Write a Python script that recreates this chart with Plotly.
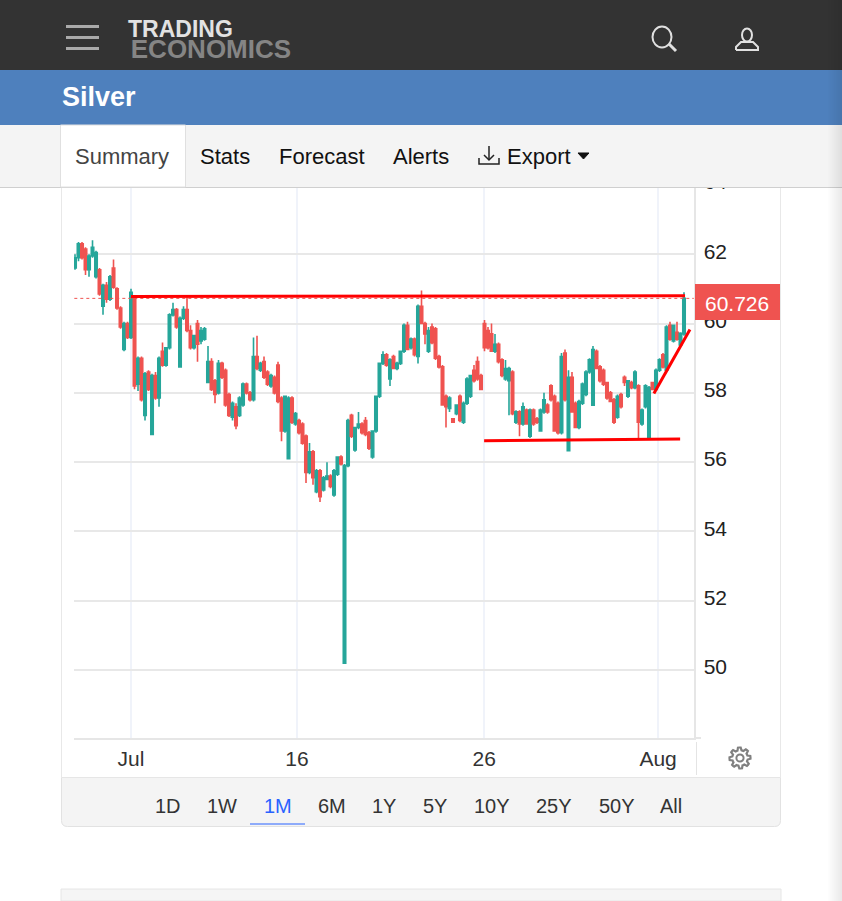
import math
import plotly.graph_objects as go

W, H = 842, 901

opens = [61.6, 61.9, 62.3, 62.15, 61.55, 61.95, 61.35, 61.55, 60.5, 61.1,
         60.7, 61.6, 61.0, 60.45, 59.25, 60.0, 59.6, 60.75, 58.25, 59.0,
         57.35, 58.6, 56.8, 58.5, 57.85, 59.2, 58.8, 59.3, 60.25, 60.4,
         58.75, 60.15, 60.4, 59.8, 59.3, 60.0, 59.5, 59.55, 58.3, 58.9,
         58.35, 58.0, 58.85, 58.65, 57.95, 57.3, 57.6, 57.35, 57.65, 58.25,
         58.0, 57.8, 59.05, 58.65, 58.9, 58.6, 58.2, 58.45, 58.8, 57.85,
         56.9, 56.1, 57.85, 57.1, 57.2, 57.1, 56.75, 55.7, 56.3, 55.15,
         55.75, 55.2, 55.5, 55.6, 55.05, 55.65, 56.15, 50.2, 55.9, 57.35,
         56.35, 57.0, 57.1, 57.2, 56.85, 56.15, 56.9, 57.9, 58.85, 59.1,
         58.4, 59.05, 58.7, 58.85, 59.2, 59.95, 59.3, 59.55, 59.05, 60.5,
         60.0, 59.2, 59.9, 59.85, 59.05, 58.75, 57.9, 57.55, 57.25, 57.4,
         57.9, 57.15, 57.7, 57.9, 58.65, 58.9, 58.5, 60.0, 59.8, 59.7,
         59.2, 59.4, 58.95, 58.4, 58.35, 58.6, 57.15, 57.45, 57.1, 57.5,
         56.75, 57.5, 57.25, 56.9, 57.45, 57.65, 58.2, 57.9, 57.7, 56.85,
         59.15, 56.33, 58.45, 57.7, 57.0, 57.7, 57.95, 58.6, 57.64, 59.2,
         58.75, 58.65, 58.3, 58.0, 57.8, 57.3, 57.95, 58.45, 57.9, 58.3,
         58.15, 58.2, 57.1, 57.6, 56.7, 58.3, 58.1, 58.65, 59.1, 58.65,
         59.95, 59.5, 59.75, 59.38, 59.7]
highs = [62.0, 62.35, 62.35, 62.2, 62.0, 62.4, 62.1, 61.6, 61.15, 61.2,
         61.4, 61.85, 61.05, 60.5, 60.05, 60.05, 61.0, 60.8, 59.05, 59.05,
         58.6, 58.65, 58.55, 58.6, 59.05, 59.45, 59.3, 60.3, 60.6, 60.45,
         60.2, 60.5, 60.75, 59.95, 59.65, 60.1, 59.9, 59.9, 59.35, 59.0,
         58.4, 58.95, 58.9, 58.7, 58.0, 57.75, 57.7, 57.9, 58.3, 58.3,
         58.05, 59.6, 59.65, 58.9, 59.05, 58.65, 58.55, 58.5, 58.9, 57.9,
         57.9, 57.9, 57.9, 57.45, 57.25, 57.15, 56.8, 56.55, 56.35, 55.8,
         55.8, 55.6, 56.0, 55.65, 55.8, 56.15, 56.2, 55.95, 57.25, 57.4,
         57.0, 57.45, 57.15, 57.3, 56.9, 56.9, 57.9, 58.85, 59.2, 59.15,
         59.0, 59.1, 58.9, 59.2, 60.0, 60.05, 59.6, 59.6, 60.55, 60.95,
         60.05, 59.9, 60.0, 59.9, 59.1, 58.8, 57.95, 57.9, 57.25, 57.65,
         57.95, 57.75, 58.45, 58.5, 58.8, 59.05, 58.55, 60.1, 59.9, 60.0,
         59.7, 59.45, 59.0, 58.95, 58.75, 58.65, 57.5, 57.5, 57.72, 57.55,
         57.55, 57.55, 57.3, 57.55, 58.0, 57.7, 58.25, 57.95, 57.75, 59.15,
         59.25, 58.65, 58.6, 57.75, 57.8, 58.3, 58.65, 59.0, 59.35, 59.25,
         58.8, 58.7, 58.3, 58.05, 57.85, 57.95, 58.0, 58.5, 58.35, 58.35,
         58.65, 58.25, 57.55, 58.25, 58.2, 58.3, 58.7, 59.0, 59.15, 59.95,
         60.05, 59.95, 60.05, 59.75, 60.9]
lows = [61.55, 61.8, 61.85, 61.4, 61.35, 61.9, 61.3, 60.8, 60.25, 60.6,
        60.65, 61.0, 60.4, 59.85, 59.2, 59.55, 59.55, 58.1, 58.05, 57.75,
        57.2, 58.05, 56.8, 57.8, 57.6, 58.75, 58.75, 59.25, 60.2, 59.85,
        58.75, 60.1, 59.75, 59.25, 59.25, 58.9, 59.4, 59.5, 58.3, 58.05,
        57.7, 57.95, 58.4, 57.6, 57.3, 57.2, 56.95, 57.3, 57.6, 57.95,
        57.75, 57.75, 58.65, 58.6, 58.4, 58.2, 58.15, 57.95, 57.7, 56.6,
        56.85, 56.1, 57.1, 57.05, 56.8, 56.5, 55.4, 55.65, 55.35, 55.1,
        54.85, 55.15, 55.5, 55.25, 55.0, 55.6, 55.9, 50.2, 55.85, 56.7,
        56.3, 56.95, 56.8, 56.75, 56.35, 56.1, 56.85, 57.85, 58.8, 58.75,
        58.2, 58.7, 58.65, 58.8, 59.15, 59.25, 59.25, 59.05, 58.85, 60.0,
        59.4, 59.15, 59.4, 58.95, 58.7, 57.65, 57.0, 57.45, 57.15, 57.35,
        57.15, 57.1, 57.65, 57.85, 58.3, 58.35, 58.1, 59.2, 59.25, 59.2,
        59.15, 58.85, 58.45, 58.35, 57.35, 57.35, 57.1, 56.75, 57.05, 57.1,
        56.7, 57.05, 57.1, 56.9, 57.4, 57.4, 57.75, 56.9, 56.8, 56.8,
        57.75, 56.33, 57.45, 57.0, 56.95, 57.65, 57.9, 58.55, 57.64, 58.7,
        58.3, 58.2, 57.8, 57.75, 57.1, 57.25, 57.55, 58.2, 57.85, 58.1,
        58.1, 56.67, 57.05, 57.55, 56.7, 58.1, 58.05, 58.6, 58.7, 58.6,
        59.5, 59.45, 59.5, 59.35, 59.65]
closes = [61.9, 62.3, 61.9, 61.55, 61.95, 62.2, 62.05, 60.85, 61.1, 60.7,
          61.35, 61.05, 60.45, 59.9, 60.0, 59.6, 60.9, 58.2, 59.0, 57.8,
          58.55, 58.1, 58.5, 57.85, 59.0, 58.8, 59.3, 60.25, 60.4, 59.9,
          60.15, 60.4, 59.8, 59.3, 59.65, 59.4, 59.8, 59.85, 58.9, 58.1,
          57.95, 58.85, 58.45, 57.65, 57.35, 57.7, 57.05, 57.85, 58.25, 58.0,
          57.8, 59.05, 58.7, 58.85, 58.45, 58.25, 58.5, 58.0, 57.75, 56.9,
          57.9, 57.85, 57.15, 57.4, 56.85, 56.55, 55.7, 56.3, 55.55, 55.75,
          55.0, 55.55, 55.6, 55.3, 55.75, 56.15, 55.95, 55.9, 57.2, 56.75,
          57.0, 57.1, 56.85, 56.8, 56.4, 56.9, 57.9, 58.85, 59.1, 58.8,
          58.95, 58.7, 58.85, 59.2, 59.95, 59.25, 59.55, 59.1, 60.5, 60.0,
          59.7, 59.8, 59.45, 59.0, 58.75, 57.65, 57.6, 57.85, 57.15, 57.65,
          57.2, 57.7, 58.4, 58.5, 58.35, 58.4, 58.1, 59.3, 59.3, 59.2,
          59.4, 58.9, 58.5, 58.7, 58.7, 57.4, 57.45, 57.1, 57.6, 57.1,
          57.5, 57.1, 57.15, 57.5, 57.8, 57.45, 57.8, 56.9, 56.85, 59.05,
          57.8, 58.45, 57.45, 57.0, 57.75, 58.25, 58.6, 58.95, 59.25, 58.7,
          58.35, 58.25, 57.85, 57.75, 57.15, 57.9, 57.6, 58.3, 58.35, 58.15,
          58.6, 57.15, 57.5, 58.2, 58.15, 58.1, 58.65, 58.95, 58.75, 59.9,
          59.55, 59.95, 59.55, 59.72, 60.726]

last_price = 60.726
y_ticks = [50, 52, 54, 56, 58, 60, 62, 64]
x_tick_pos = [16, 63.4, 116.9, 166.6]
x_tick_labels = ["Jul", "16", "26", "Aug"]
range_buttons = ["1D", "1W", "1M", "6M", "1Y", "5Y", "10Y", "25Y", "50Y", "All"]
range_button_x = [168, 222, 278, 332, 384, 435, 492, 554, 617, 671]
tabs = ["Stats", "Forecast", "Alerts", "Export"]
tab_x = [198.5, 277.5, 392, 506]

# hand drawn lines on the chart: (x indexes, y values)
resistance_x, resistance_y = [16, 174.3], [60.78, 60.8]
support_x, support_y = [116.9, 172.9], [56.62, 56.67]
trend_x, trend_y = [165.4, 175.7], [57.98, 59.83]

FONT = "Liberation Sans"
UP, DOWN = "#26a69a", "#ef5350"


def px(x):
    return x / W


def py(y):
    return 1 - y / H


fig = go.Figure()

fig.add_trace(go.Candlestick(
    x=list(range(len(closes))),
    open=opens, high=highs, low=lows, close=closes,
    increasing=dict(line=dict(color=UP, width=1.6), fillcolor=UP),
    decreasing=dict(line=dict(color=DOWN, width=1.6), fillcolor=DOWN),
    whiskerwidth=0,
    hoverinfo="skip",
))

# last price dotted line
fig.add_trace(go.Scatter(
    x=[-0.2, 176.8], y=[last_price, last_price], mode="lines",
    line=dict(color="#ef5350", width=1, dash="dot"), hoverinfo="skip",
))
for lx, ly in [(resistance_x, resistance_y), (support_x, support_y), (trend_x, trend_y)]:
    fig.add_trace(go.Scatter(
        x=lx, y=ly, mode="lines",
        line=dict(color="#ff0000", width=3), hoverinfo="skip",
    ))

shapes = []
annotations = []


def rect(x0, y0, x1, y1, fill, line=None, lw=1):
    shapes.append(dict(
        type="rect", xref="paper", yref="paper", layer="above",
        x0=px(x0), x1=px(x1), y0=py(y0), y1=py(y1), fillcolor=fill,
        line=dict(color=line or fill, width=lw if line else 0),
    ))


def seg(points, color, lw=2, close=False, fill=None):
    d = "M" + " L".join(f"{px(a):.5f},{py(b):.5f}" for a, b in points)
    if close:
        d += " Z"
    shapes.append(dict(
        type="path", xref="paper", yref="paper", layer="above", path=d,
        line=dict(color=color, width=lw), fillcolor=fill or "rgba(0,0,0,0)",
    ))


def rounded_bottom(x0, y0, x1, y1, r, fill, line):
    d = (f"M{px(x0)},{py(y0)} L{px(x0)},{py(y1 - r)} "
         f"Q{px(x0)},{py(y1)} {px(x0 + r)},{py(y1)} L{px(x1 - r)},{py(y1)} "
         f"Q{px(x1)},{py(y1)} {px(x1)},{py(y1 - r)} L{px(x1)},{py(y0)}")
    shapes.append(dict(
        type="path", xref="paper", yref="paper", layer="above", path=d,
        line=dict(color=line, width=1), fillcolor=fill,
    ))


def oval(cx, cy, rx, ry, color, lw=2):
    shapes.append(dict(
        type="circle", xref="paper", yref="paper", layer="above",
        x0=px(cx - rx), x1=px(cx + rx), y0=py(cy + ry), y1=py(cy - ry),
        line=dict(color=color, width=lw),
    ))


def label(x, y, text, size, color, anchor="center", weight=None):
    annotations.append(dict(
        xref="paper", yref="paper", x=px(x), y=py(y), text=text, showarrow=False,
        xanchor=anchor, yanchor="middle", borderpad=0, align="left",
        font=dict(family=FONT, size=size, color=color, weight=weight),
    ))


# header
rect(0, 0, 842, 70, "#333333")
rect(0, 70, 842, 125, "#4e80bd")
rect(0, 125, 842, 187, "#f4f4f4")
rect(0, 187, 842, 188, "#cfcfcf")
rect(60.5, 125, 185.5, 187, "#ffffff", "#e0e0e0", 1)
for hy in [26.5, 37.5, 48.5]:
    seg([(66, hy), (99, hy)], "#aaaaaa", 3)
label(126.5, 40.5,
      '<span style="font-size:23px;color:#e2e2e2"><b>TRADING</b></span><br>'
      '<span style="font-size:10px">&nbsp;</span>'
      '<span style="font-size:26px;color:#858585"><b>ECONOMICS</b></span>',
      16, "#e2e2e2", "left")
oval(662, 37, 9.5, 10.5, "#e0e0e0", 2)
seg([(669, 44), (676, 51)], "#e0e0e0", 3)
oval(747, 35, 5, 6.5, "#e0e0e0", 2)
seg([(736, 50), (736, 47), (741, 42), (753, 42), (758, 47), (758, 50), (736, 50)], "#e0e0e0", 2)
label(61, 96.5, "Silver", 27, "#ffffff", "left", "bold")
label(73.5, 156, "Summary", 22, "#444444", "left")
for tx, tab in zip(tab_x, tabs):
    label(tx, 156, tab, 22, "#111111", "left")
seg([(489, 146), (489, 160)], "#222222", 1.5)
seg([(484, 155), (489, 160), (494, 155)], "#222222", 1.5)
seg([(479, 158), (479, 164), (499, 164), (499, 158)], "#222222", 1.5)
seg([(578, 153), (589, 153), (583.5, 159)], "#111111", 1, True, "#111111")

# card frame
rect(61, 188, 62, 778, "#e8e8e8")
rect(780, 188, 781, 778, "#e8e8e8")
rounded_bottom(61.5, 778, 780.5, 826.5, 6, "#f4f4f4", "#e2e2e2")
rect(62, 777, 780, 778, "#e6e6e6")
rect(61, 889, 781, 901, "#f5f5f5", "#e6e6e6", 1)
rect(696, 742, 697, 775, "#e4e4e4")
rect(694, 737, 701, 739, "#e6e6e6")
rect(250, 823.5, 305, 824.5, "#2962ff")

# last price tag
rect(695, 284, 780, 320, "#ef5350")
label(737, 303, f"{last_price:.3f}", 21, "#ffffff")

for bx, name in zip(range_button_x, range_buttons):
    label(bx, 806, name, 20, "#2962ff" if name == "1M" else "#333333")

# settings gear
gear = []
for k in range(48):
    ang = 2 * math.pi * (k + 0.5) / 48 - math.pi / 2 - math.pi / 8
    r = 10.5 if (k % 6) in (1, 2, 3) else 7.8
    gear.append((740 + r * math.cos(ang), 758 + r * math.sin(ang)))
seg(gear, "#808080", 2.2, True)
oval(740, 758, 3.6, 3.6, "#808080", 2)

# soft shadow down the right edge of the page
for k in range(14):
    rect(828 + k, 0, 829 + k, 901, f"rgba(0,0,0,{0.006 * (k + 1):.3f})")

fig.update_layout(
    width=W, height=H,
    margin=dict(l=0, r=0, t=0, b=0),
    paper_bgcolor="#ffffff", plot_bgcolor="#ffffff",
    showlegend=False, boxgap=0, dragmode=False,
    font=dict(family=FONT, size=20, color="#222222"),
    shapes=shapes, annotations=annotations,
    xaxis=dict(
        domain=[px(74), px(694)], range=[-0.29, 176.86],
        rangeslider=dict(visible=False),
        tickmode="array", tickvals=x_tick_pos, ticktext=x_tick_labels,
        tickfont=dict(family=FONT, size=21, color="#333333"),
        ticks="", ticklabelstandoff=1,
        showgrid=True, gridcolor="#f0f3fa", gridwidth=2,
        showline=True, linecolor="#e6e6e6", linewidth=2, zeroline=False,
    ),
    yaxis=dict(
        domain=[py(738), py(170)], range=[48.04, 64.43], side="right",
        tickmode="array", tickvals=y_ticks,
        tickfont=dict(family=FONT, size=21, color="#222222"),
        ticks="", ticklabelstandoff=4, ticklabelshift=-3,
        showgrid=True, gridcolor="#e8e8e8", gridwidth=2,
        showline=True, linecolor="#e6e6e6", linewidth=1.5, zeroline=False,
    ),
)

fig.write_html(
    "out.html",
    config=dict(displayModeBar=False, staticPlot=True),
    post_script="document.body.style.margin='0';document.body.style.overflow='hidden';",
)
